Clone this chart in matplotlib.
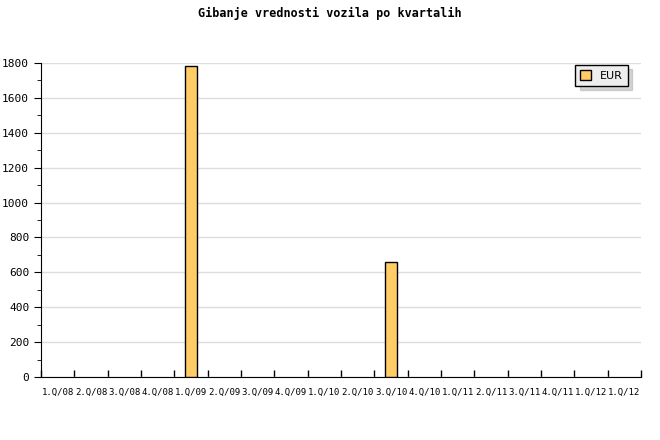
import matplotlib.pyplot as plt
import numpy as np
from matplotlib.ticker import MultipleLocator

quarters = [
    "1.Q/08", "2.Q/08", "3.Q/08", "4.Q/08",
    "1.Q/09", "2.Q/09", "3.Q/09", "4.Q/09",
    "1.Q/10", "2.Q/10", "3.Q/10", "4.Q/10",
    "1.Q/11", "2.Q/11", "3.Q/11", "4.Q/11",
    "1.Q/12", "1.Q/12",
]
eur = [0, 0, 0, 0, 1783, 0, 0, 0, 0, 0, 659, 0, 0, 0, 0, 0, 0, 0]

fig = plt.figure(figsize=(6.6, 4.4), dpi=100)
ax = fig.add_axes([41 / 660, 1 - 377 / 440, 600 / 660, 314 / 440])

x = np.arange(len(quarters))
vals = np.array(eur, dtype=float)
shown = vals > 0  # empty quarters draw nothing
ax.bar(x[shown], vals[shown], width=0.36, color="#ffcc66", edgecolor="black",
       linewidth=1, label="EUR", zorder=3)

ax.set_xlim(-0.5, len(quarters) - 0.5)
ax.set_ylim(0, 1800)

# category labels centred, tick marks on the boundaries
ax.set_xticks(x)
ax.set_xticklabels(quarters, fontsize=6.5, family="DejaVu Sans Mono")
ax.tick_params(axis="x", which="major", length=0, pad=8)
ax.set_xticks(np.arange(len(quarters) + 1) - 0.5, minor=True)
ax.tick_params(axis="x", which="minor", direction="in", length=5, width=1)

ax.yaxis.set_major_locator(MultipleLocator(200))
ax.yaxis.set_minor_locator(MultipleLocator(100))
ax.tick_params(axis="y", which="major", direction="out", length=5, labelsize=8)
ax.tick_params(axis="y", which="minor", direction="out", length=3)
for lab in ax.get_yticklabels():
    lab.set_family("DejaVu Sans Mono")

ax.grid(axis="y", color="#dddddd", linewidth=1, zorder=0)
ax.spines["top"].set_visible(False)
ax.spines["right"].set_visible(False)

leg = ax.legend(loc="upper right", bbox_to_anchor=(0.988, 1.012), fancybox=False,
                shadow={"ox": 3, "oy": -3, "color": "#aaaaaa"}, framealpha=1,
                edgecolor="black", prop={"family": "DejaVu Sans", "size": 8},
                handlelength=1.0, handleheight=1.0, borderpad=0.45,
                handletextpad=0.8, borderaxespad=0.5)
leg.get_frame().set_facecolor("#eeeeee")

fig.suptitle("Gibanje vrednosti vozila po kvartalih", y=0.985, fontsize=8.5,
             fontweight="bold", family="DejaVu Sans Mono")

fig.savefig("out.png")
